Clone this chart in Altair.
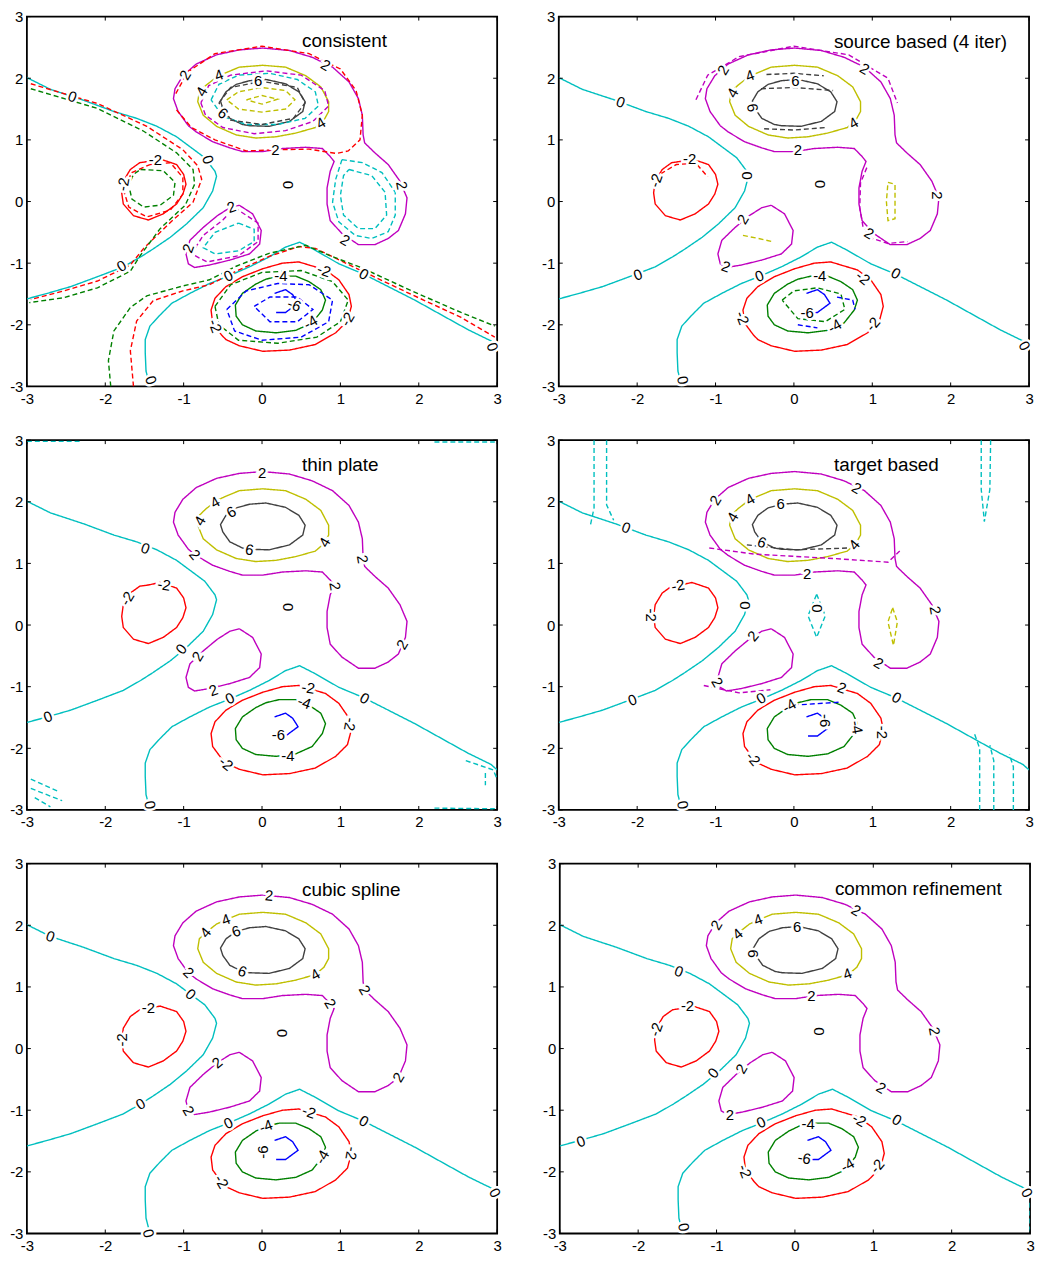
import altair as alt
import pandas as pd

# ---------------- data ----------------
PANEL_TITLES = ["consistent", "source based (4 iter)", "thin plate",
                "target based", "cubic spline", "common refinement"]
TITLE_X = [0.51, 0.51, 0.51, 0.51, 0.51, 0.51]
TITLE_Y = [2.60, 2.59, 2.60, 2.60, 2.58, 2.59]
TICKS = [-3, -2, -1, 0, 1, 2, 3]

LEVEL_KEYS = ["c0", "c2", "c4", "c6", "cm2", "cm4", "cm6"]
LEVEL_COLORS = ["#00BFBF", "#BF00BF", "#BFBF00", "#404040", "#FF0000", "#008000", "#0000FF"]

# shared solid contours
C0_UL_X = [-3.00, -2.70, -2.27, -1.89, -1.60, -1.34, -1.09, -0.91, -0.73, -0.60, -0.58, -0.63, -0.75, -0.96, -1.17, -1.39, -1.55, -1.77, -2.10, -2.44, -2.74, -3.00]
C0_UL_Y = [2.01, 1.82, 1.64, 1.46, 1.35, 1.22, 1.05, 0.88, 0.71, 0.49, 0.41, 0.17, -0.10, -0.36, -0.58, -0.77, -0.90, -1.06, -1.22, -1.38, -1.49, -1.58]
C0_LOW_X = [-1.43, -1.48, -1.49, -1.49, -1.43, -1.30, -1.15, -0.92, -0.67, -0.43, -0.16, 0.09, 0.30, 0.48, 0.68, 0.98, 1.30, 1.61, 1.95, 2.29, 2.63, 2.92, 3.00]
C0_LOW_Y = [-3.00, -2.75, -2.45, -2.24, -2.02, -1.84, -1.65, -1.49, -1.33, -1.21, -1.06, -0.90, -0.74, -0.66, -0.79, -1.01, -1.18, -1.38, -1.60, -1.84, -2.08, -2.26, -2.35]
C2_BIG_X = [-0.94, -1.07, -1.13, -1.11, -1.01, -0.84, -0.58, -0.29, 0.01, 0.35, 0.64, 0.90, 1.11, 1.23, 1.28, 1.29, 1.31, 1.44, 1.61, 1.76, 1.85, 1.83, 1.74, 1.61, 1.44, 1.23, 1.02, 0.87, 0.83, 0.83, 0.87, 0.92, 0.87, 0.77, 0.56, 0.26, 0.01, -0.25, -0.41, -0.63, -0.84, -0.94]
C2_BIG_Y = [1.23, 1.46, 1.67, 1.83, 2.04, 2.23, 2.38, 2.46, 2.49, 2.45, 2.34, 2.18, 1.94, 1.67, 1.40, 1.08, 0.95, 0.79, 0.60, 0.33, 0.06, -0.20, -0.47, -0.60, -0.70, -0.70, -0.52, -0.31, -0.04, 0.22, 0.49, 0.65, 0.73, 0.86, 0.88, 0.86, 0.81, 0.81, 0.87, 0.97, 1.13, 1.23]
C2_SMALL_X = [-0.29, -0.12, -0.01, -0.03, -0.16, -0.41, -0.67, -0.86, -0.94, -0.97, -0.92, -0.75, -0.57, -0.41, -0.29]
C2_SMALL_Y = [-0.06, -0.20, -0.47, -0.69, -0.85, -0.95, -1.03, -1.07, -1.01, -0.85, -0.63, -0.42, -0.23, -0.10, -0.06]
C4_X = [-0.46, -0.29, 0.01, 0.30, 0.56, 0.75, 0.85, 0.85, 0.79, 0.68, 0.43, 0.18, -0.08, -0.33, -0.58, -0.75, -0.82, -0.80, -0.72, -0.58, -0.46]
C4_Y = [2.09, 2.18, 2.21, 2.18, 2.04, 1.86, 1.62, 1.46, 1.32, 1.20, 1.11, 1.05, 1.03, 1.08, 1.22, 1.40, 1.62, 1.78, 1.88, 2.02, 2.09]
C6_X = [-0.33, -0.16, 0.05, 0.30, 0.47, 0.55, 0.52, 0.35, 0.09, -0.16, -0.25, -0.41, -0.50, -0.53, -0.46, -0.33]
C6_Y = [1.90, 1.96, 1.98, 1.91, 1.78, 1.62, 1.46, 1.30, 1.22, 1.23, 1.25, 1.35, 1.51, 1.63, 1.78, 1.90]
CM2_LEFT_X = [-1.45, -1.30, -1.09, -1.00, -0.97, -1.01, -1.09, -1.26, -1.45, -1.64, -1.77, -1.79, -1.77, -1.68, -1.56, -1.45]
CM2_LEFT_Y = [0.65, 0.69, 0.60, 0.44, 0.28, 0.12, -0.04, -0.20, -0.30, -0.23, -0.04, 0.14, 0.33, 0.52, 0.63, 0.65]
CM2_LOW_X = [0.60, 0.81, 0.98, 1.11, 1.14, 1.09, 0.94, 0.68, 0.35, 0.01, -0.29, -0.46, -0.52, -0.63, -0.65, -0.60, -0.46, -0.25, 0.01, 0.26, 0.47, 0.60]
CM2_LOW_Y = [-1.03, -1.11, -1.27, -1.51, -1.70, -1.94, -2.13, -2.32, -2.41, -2.43, -2.34, -2.24, -2.16, -1.97, -1.76, -1.57, -1.38, -1.22, -1.09, -1.00, -0.98, -1.03]
CM4_X = [0.05, 0.22, 0.43, 0.60, 0.75, 0.81, 0.77, 0.64, 0.43, 0.18, -0.08, -0.25, -0.33, -0.34, -0.25, -0.08, 0.05]
CM4_Y = [-1.26, -1.21, -1.21, -1.30, -1.43, -1.60, -1.76, -1.97, -2.09, -2.13, -2.10, -2.00, -1.86, -1.68, -1.49, -1.34, -1.26]
CM6_X = [0.16, 0.30, 0.39, 0.46, 0.30, 0.18]
CM6_Y = [-1.49, -1.43, -1.51, -1.65, -1.80, -1.80]

# panel 1 (consistent) dashed contours
P1_R0A_X = [-2.95, -2.10, -1.47, -1.01, -0.82, -0.77, -0.88, -1.17, -1.51, -1.68, -2.10, -2.53, -2.95]
P1_R0A_Y = [1.91, 1.59, 1.22, 0.84, 0.58, 0.36, -0.01, -0.34, -0.76, -1.03, -1.29, -1.45, -1.59]
P1_G0A_X = [-2.95, -2.10, -1.51, -1.09, -0.88, -0.86, -0.98, -1.30, -1.55, -1.68, -2.10, -2.53, -2.97]
P1_G0A_Y = [1.83, 1.51, 1.14, 0.79, 0.52, 0.28, -0.06, -0.44, -0.87, -1.13, -1.40, -1.56, -1.64]
P1_R0B_X = [-1.64, -1.68, -1.60, -1.39, -1.01, -0.67, -0.33, 0.09, 0.47, 0.68, 1.28, 1.91, 2.54, 2.97]
P1_R0B_Y = [-3.00, -2.42, -1.94, -1.61, -1.45, -1.35, -1.13, -0.89, -0.73, -0.76, -1.13, -1.51, -1.88, -2.20]
P1_G0B_X = [-1.93, -1.96, -1.89, -1.68, -1.47, -1.01, -0.67, -0.33, 0.09, 0.56, 0.85, 1.28, 1.91, 2.54, 2.97]
P1_G0B_Y = [-3.00, -2.58, -2.10, -1.72, -1.53, -1.37, -1.27, -1.05, -0.84, -0.71, -0.87, -1.08, -1.45, -1.80, -2.02]
P1_GL_X = [-1.55, -1.26, -1.11, -1.13, -1.30, -1.51, -1.66, -1.70, -1.64, -1.55]
P1_GL_Y = [0.52, 0.50, 0.31, 0.10, -0.06, -0.09, 0.04, 0.26, 0.44, 0.52]
P1_RL_X = [-1.43, -1.17, -1.01, -1.01, -1.17, -1.47, -1.70, -1.77, -1.66, -1.43]
P1_RL_Y = [0.60, 0.63, 0.39, 0.12, -0.14, -0.25, -0.09, 0.20, 0.47, 0.60]
P1_CR1_X = [1.02, 1.28, 1.53, 1.70, 1.70, 1.61, 1.40, 1.19, 0.98, 0.90, 0.94, 1.02]
P1_CR1_Y = [0.68, 0.63, 0.47, 0.15, -0.22, -0.49, -0.60, -0.55, -0.33, -0.01, 0.36, 0.68]
P1_CR2_X = [1.11, 1.40, 1.57, 1.59, 1.44, 1.23, 1.04, 1.00, 1.04, 1.11]
P1_CR2_Y = [0.52, 0.42, 0.15, -0.22, -0.44, -0.44, -0.22, 0.10, 0.42, 0.52]
P1_R2_X = [-1.10, -0.95, -0.60, 0.00, 0.60, 1.00, 1.20, 1.28, 1.25, 1.10, 0.95, 0.60, 0.20, -0.20, -0.60, -0.90, -1.10]
P1_R2_Y = [1.75, 2.10, 2.40, 2.52, 2.40, 2.15, 1.80, 1.40, 1.00, 0.82, 0.78, 0.85, 0.84, 0.82, 1.00, 1.20, 1.50]
P1_C4_X = [-0.65, -0.55, -0.30, 0.10, 0.45, 0.68, 0.72, 0.55, 0.20, -0.20, -0.50, -0.65]
P1_C4_Y = [1.65, 1.90, 2.05, 2.08, 1.98, 1.78, 1.55, 1.35, 1.25, 1.25, 1.38, 1.65]
P1_M4_X = [-0.78, -0.68, -0.40, 0.05, 0.50, 0.80, 0.85, 0.65, 0.30, -0.10, -0.50, -0.72, -0.78]
P1_M4_Y = [1.60, 1.88, 2.05, 2.12, 2.05, 1.80, 1.55, 1.30, 1.15, 1.10, 1.20, 1.40, 1.60]
P1_Y6_X = [-0.45, -0.30, 0.00, 0.30, 0.42, 0.30, 0.00, -0.30, -0.45]
P1_Y6_Y = [1.65, 1.78, 1.85, 1.80, 1.65, 1.50, 1.45, 1.50, 1.65]
P1_Y6B_X = [-0.20, 0.00, 0.20, 0.00, -0.20]
P1_Y6B_Y = [1.65, 1.72, 1.66, 1.58, 1.65]
P1_K6_X = [-0.55, -0.40, 0.00, 0.45, 0.55, 0.40, 0.00, -0.40, -0.55]
P1_K6_Y = [1.60, 1.85, 1.95, 1.85, 1.60, 1.35, 1.25, 1.32, 1.60]
P1_CS_X = [-0.30, -0.10, -0.10, -0.30, -0.60, -0.75, -0.60, -0.30]
P1_CS_Y = [-0.35, -0.45, -0.65, -0.80, -0.85, -0.75, -0.50, -0.35]
P1_MS_X = [-0.35, -0.05, -0.05, -0.30, -0.70, -0.90, -0.75, -0.50, -0.35]
P1_MS_Y = [-0.10, -0.35, -0.65, -0.88, -0.98, -0.85, -0.55, -0.30, -0.10]
P1_GB_X = [-0.60, -0.40, 0.00, 0.50, 0.90, 1.10, 1.00, 0.70, 0.20, -0.30, -0.55, -0.60]
P1_GB_Y = [-1.70, -1.35, -1.15, -1.12, -1.30, -1.60, -1.95, -2.20, -2.30, -2.25, -2.00, -1.70]
P1_BB_X = [-0.45, -0.20, 0.20, 0.60, 0.90, 0.85, 0.50, 0.00, -0.35, -0.45]
P1_BB_Y = [-1.75, -1.45, -1.33, -1.35, -1.60, -1.95, -2.20, -2.25, -2.10, -1.75]
P1_BI_X = [-0.10, 0.10, 0.45, 0.65, 0.45, 0.10, -0.10]
P1_BI_Y = [-1.70, -1.55, -1.55, -1.75, -1.95, -1.95, -1.70]

# panel 2 (source based) dashed contours
P2_YR_X = [1.20, 1.29, 1.29, 1.20, 1.18, 1.20]
P2_YR_Y = [0.31, 0.28, -0.28, -0.31, 0.00, 0.31]
P2_KA_X = [-0.35, 0.00, 0.38]
P2_KA_Y = [2.06, 2.08, 2.04]
P2_KB_X = [-0.42, 0.00, 0.50]
P2_KB_Y = [1.83, 1.85, 1.80]
P2_KC_X = [-0.38, 0.00, 0.40]
P2_KC_Y = [1.18, 1.16, 1.20]
P2_MR_X = [0.93, 0.85, 0.84, 0.88, 1.00, 1.20, 1.45]
P2_MR_Y = [0.55, 0.30, -0.10, -0.40, -0.60, -0.68, -0.65]
P2_MT_X = [-1.25, -1.10, -0.70, 0.00, 0.70, 1.20, 1.32]
P2_MT_Y = [1.65, 2.05, 2.35, 2.52, 2.38, 2.00, 1.60]
P2_GI_X = [-0.15, 0.00, 0.30, 0.60, 0.65, 0.40, 0.05, -0.15]
P2_GI_Y = [-1.60, -1.45, -1.40, -1.50, -1.75, -1.95, -1.90, -1.60]
P2_BA_X = [0.55, 0.75, 0.78]
P2_BA_Y = [-1.55, -1.60, -1.75]
P2_BB_X = [0.05, 0.30]
P2_BB_Y = [-2.00, -2.05]
P2_YS_X = [-0.65, -0.45, -0.28]
P2_YS_Y = [-0.55, -0.60, -0.65]
P2_RL_X = [-1.70, -1.50, -1.25, -1.10]
P2_RL_Y = [0.45, 0.60, 0.62, 0.40]

# panel 3 (thin plate) dashed artifacts
P3_T1_X = [-3.00, -2.30]
P3_T1_Y = [2.98, 2.98]
P3_T2_X = [2.20, 2.97]
P3_T2_Y = [2.97, 2.97]
P3_B1_X = [2.20, 2.97]
P3_B1_Y = [-2.97, -2.98]
P3_BL1_X = [-2.95, -2.60]
P3_BL1_Y = [-2.50, -2.70]
P3_BL2_X = [-2.95, -2.55]
P3_BL2_Y = [-2.65, -2.85]
P3_BL3_X = [-2.90, -2.70]
P3_BL3_Y = [-2.80, -2.95]
P3_BR1_X = [2.60, 2.95, 3.00]
P3_BR1_Y = [-2.20, -2.35, -2.50]
P3_BR2_X = [2.85, 2.85]
P3_BR2_Y = [-2.40, -2.60]

# panel 4 (target based) dashed artifacts
P4_TL1_X = [-2.55, -2.55, -2.60]
P4_TL1_Y = [3.00, 1.90, 1.60]
P4_TL2_X = [-2.39, -2.39, -2.30]
P4_TL2_Y = [3.00, 1.95, 1.70]
P4_TR1_X = [2.39, 2.39, 2.43]
P4_TR1_Y = [3.00, 2.20, 1.68]
P4_TR2_X = [2.51, 2.50, 2.43]
P4_TR2_Y = [3.00, 2.20, 1.68]
P4_BR1_X = [2.37, 2.37, 2.30]
P4_BR1_Y = [-3.00, -2.00, -1.75]
P4_BR2_X = [2.55, 2.55, 2.50]
P4_BR2_Y = [-3.00, -2.20, -1.95]
P4_BR3_X = [2.80, 2.80, 2.75]
P4_BR3_Y = [-3.00, -2.30, -2.10]
P4_YD_X = [1.26, 1.32, 1.27, 1.20, 1.26]
P4_YD_Y = [0.28, 0.05, -0.33, 0.05, 0.28]
P4_CD_X = [0.29, 0.40, 0.29, 0.18, 0.29]
P4_CD_Y = [0.50, 0.15, -0.20, 0.15, 0.50]
P4_MB_X = [-1.08, -0.50, 0.50, 1.20, 1.35]
P4_MB_Y = [1.25, 1.15, 1.08, 1.02, 1.20]
P4_KB_X = [-0.60, 0.00, 0.70]
P4_KB_Y = [1.30, 1.22, 1.25]
P4_BD_X = [0.00, 0.60]
P4_BD_Y = [-1.30, -1.25]
P4_MS_X = [-1.15, -0.70, -0.30]
P4_MS_Y = [-0.98, -1.10, -1.05]

# panel 6 (common refinement) dashed artifact
P6_E_X = [3.00, 3.00]
P6_E_Y = [-2.50, -3.00]

SHARED = [("c0", C0_UL_X, C0_UL_Y), ("c0", C0_LOW_X, C0_LOW_Y),
          ("c2", C2_BIG_X, C2_BIG_Y), ("c2", C2_SMALL_X, C2_SMALL_Y),
          ("c4", C4_X, C4_Y), ("c6", C6_X, C6_Y),
          ("cm2", CM2_LEFT_X, CM2_LEFT_Y), ("cm2", CM2_LOW_X, CM2_LOW_Y),
          ("cm4", CM4_X, CM4_Y), ("cm6", CM6_X, CM6_Y)]

EXTRAS = [
    (0, "cm2", P1_R0A_X, P1_R0A_Y), (0, "cm4", P1_G0A_X, P1_G0A_Y),
    (0, "cm2", P1_R0B_X, P1_R0B_Y), (0, "cm4", P1_G0B_X, P1_G0B_Y),
    (0, "cm4", P1_GL_X, P1_GL_Y), (0, "cm2", P1_RL_X, P1_RL_Y),
    (0, "c0", P1_CR1_X, P1_CR1_Y), (0, "c0", P1_CR2_X, P1_CR2_Y),
    (0, "cm2", P1_R2_X, P1_R2_Y), (0, "c0", P1_C4_X, P1_C4_Y),
    (0, "c2", P1_M4_X, P1_M4_Y), (0, "c4", P1_Y6_X, P1_Y6_Y),
    (0, "c4", P1_Y6B_X, P1_Y6B_Y), (0, "c6", P1_K6_X, P1_K6_Y),
    (0, "c0", P1_CS_X, P1_CS_Y), (0, "c2", P1_MS_X, P1_MS_Y),
    (0, "cm4", P1_GB_X, P1_GB_Y), (0, "cm6", P1_BB_X, P1_BB_Y),
    (0, "cm6", P1_BI_X, P1_BI_Y),
    (1, "c4", P2_YR_X, P2_YR_Y), (1, "c6", P2_KA_X, P2_KA_Y),
    (1, "c6", P2_KB_X, P2_KB_Y), (1, "c6", P2_KC_X, P2_KC_Y),
    (1, "c2", P2_MR_X, P2_MR_Y), (1, "c2", P2_MT_X, P2_MT_Y),
    (1, "cm4", P2_GI_X, P2_GI_Y), (1, "cm6", P2_BA_X, P2_BA_Y),
    (1, "cm6", P2_BB_X, P2_BB_Y), (1, "c4", P2_YS_X, P2_YS_Y),
    (1, "cm2", P2_RL_X, P2_RL_Y),
    (2, "c0", P3_T1_X, P3_T1_Y), (2, "c0", P3_T2_X, P3_T2_Y),
    (2, "c0", P3_B1_X, P3_B1_Y), (2, "c0", P3_BL1_X, P3_BL1_Y),
    (2, "c0", P3_BL2_X, P3_BL2_Y), (2, "c0", P3_BL3_X, P3_BL3_Y),
    (2, "c0", P3_BR1_X, P3_BR1_Y), (2, "c0", P3_BR2_X, P3_BR2_Y),
    (3, "c0", P4_TL1_X, P4_TL1_Y), (3, "c0", P4_TL2_X, P4_TL2_Y),
    (3, "c0", P4_TR1_X, P4_TR1_Y), (3, "c0", P4_TR2_X, P4_TR2_Y),
    (3, "c0", P4_BR1_X, P4_BR1_Y), (3, "c0", P4_BR2_X, P4_BR2_Y),
    (3, "c0", P4_BR3_X, P4_BR3_Y), (3, "c4", P4_YD_X, P4_YD_Y),
    (3, "c0", P4_CD_X, P4_CD_Y), (3, "c2", P4_MB_X, P4_MB_Y),
    (3, "c6", P4_KB_X, P4_KB_Y), (3, "cm6", P4_BD_X, P4_BD_Y),
    (3, "c2", P4_MS_X, P4_MS_Y),
    (5, "c0", P6_E_X, P6_E_Y),
]

# contour labels: (text, x, y, angle)
LABELS_P1 = [("2", -0.98, 2.05, 300), ("2", 0.81, 2.21, 30), ("4", -0.55, 2.05, 340), ("4", -0.77, 1.78, 300),
             ("6", -0.05, 1.96, 0), ("6", -0.50, 1.43, 40), ("4", 0.75, 1.27, 330), ("2", 0.17, 0.83, 0),
             ("2", 1.78, 0.26, 80), ("2", 1.06, -0.63, 30), ("2", -0.39, -0.09, 340), ("2", -0.94, -0.76, 290),
             ("0", -2.42, 1.70, 20), ("0", -0.69, 0.68, 70), ("0", 0.33, 0.27, 270), ("0", -1.79, -1.05, 330),
             ("0", -0.43, -1.21, 335), ("0", 1.30, -1.18, 30), ("0", 2.94, -2.36, 70), ("0", -1.42, -2.90, 70),
             ("-2", -1.36, 0.68, 0), ("-2", -1.77, 0.28, 280), ("-4", 0.24, -1.21, 0), ("-2", 0.79, -1.12, 20),
             ("-6", 0.41, -1.68, 20), ("-4", 0.62, -1.96, 330), ("-2", 1.09, -1.91, 300), ("-2", -0.60, -2.02, 70)]
LABELS_P2 = [("2", -0.90, 2.13, 300), ("2", 0.90, 2.15, 30), ("4", -0.56, 2.04, 340), ("4", -0.78, 1.76, 300),
             ("6", 0.02, 1.96, 0), ("6", -0.53, 1.52, 80), ("4", 0.76, 1.27, 330), ("2", 0.05, 0.83, 0),
             ("2", 1.82, 0.10, 90), ("2", 0.96, -0.52, 30), ("2", -0.65, -0.29, 300), ("2", -0.87, -1.06, 20),
             ("0", -2.21, 1.61, 20), ("0", -0.60, 0.42, 90), ("0", 0.33, 0.28, 90), ("0", -1.99, -1.19, 340),
             ("0", -0.44, -1.21, 340), ("0", 1.30, -1.17, 30), ("0", 2.94, -2.34, 60), ("0", -1.42, -2.90, 80),
             ("-2", -1.33, 0.69, 0), ("-2", -1.76, 0.34, 290), ("-4", 0.33, -1.21, 0), ("-2", 0.88, -1.24, 40),
             ("-6", 0.17, -1.81, 0), ("-4", 0.52, -2.02, 330), ("-2", 1.01, -1.99, 310), ("-2", -0.66, -1.89, 70)]
LABELS_P3 = [("2", 0.00, 2.47, 0), ("4", -0.60, 1.99, 330), ("4", -0.79, 1.69, 300), ("6", -0.39, 1.83, 330),
             ("6", -0.16, 1.22, 10), ("4", 0.80, 1.34, 300), ("2", -0.86, 1.14, 50), ("2", 1.28, 1.07, 80),
             ("2", 0.93, 0.63, 80), ("2", 1.79, -0.32, 300), ("2", -0.82, -0.51, 300), ("2", -0.62, -1.06, 340),
             ("0", -1.49, 1.24, 20), ("0", -1.03, -0.39, 310), ("0", -2.73, -1.49, 340), ("0", 0.33, 0.29, 270),
             ("0", -0.41, -1.19, 335), ("0", 1.31, -1.19, 30), ("0", -1.43, -2.92, 80),
             ("-2", -1.25, 0.65, 10), ("-2", -1.72, 0.43, 300), ("-2", 0.59, -1.02, 10), ("-4", 0.54, -1.26, 20),
             ("-2", 1.12, -1.61, 100), ("-6", 0.21, -1.79, 0), ("-4", 0.33, -2.12, 0), ("-2", -0.46, -2.25, 40)]
LABELS_P4 = [("2", -1.00, 2.02, 300), ("2", 0.80, 2.22, 30), ("4", -0.56, 2.04, 330), ("4", -0.78, 1.75, 300),
             ("6", -0.17, 1.96, 0), ("6", -0.41, 1.34, 20), ("4", 0.77, 1.30, 310), ("2", 0.17, 0.83, 0),
             ("2", 1.80, 0.24, 80), ("2", 1.08, -0.62, 30), ("2", -0.52, -0.18, 310), ("2", -0.98, -0.93, 60),
             ("0", -2.14, 1.58, 20), ("0", -0.62, 0.32, 90), ("0", 0.30, 0.27, 90), ("0", -2.06, -1.22, 340),
             ("0", -0.42, -1.19, 330), ("0", 1.31, -1.18, 30), ("0", -1.42, -2.92, 80),
             ("-2", -1.48, 0.64, 350), ("-2", -1.82, 0.16, 90), ("2", 0.61, -1.02, 20), ("-4", -0.06, -1.31, 330),
             ("-6", 0.40, -1.55, 90), ("-4", 0.80, -1.66, 80), ("-2", 1.12, -1.74, 90), ("-2", -0.52, -2.17, 50)]
LABELS_P5 = [("2", 0.09, 2.48, 5), ("2", -0.94, 1.23, 45), ("2", 1.31, 0.95, 60), ("2", 0.87, 0.73, 60),
             ("2", 1.74, -0.47, 300), ("2", -0.57, -0.23, 320), ("2", -0.94, -1.01, 60),
             ("4", -0.46, 2.09, 340), ("4", -0.72, 1.88, 310), ("4", 0.68, 1.20, 330),
             ("6", -0.33, 1.90, 340), ("6", -0.25, 1.25, 20),
             ("0", -2.70, 1.82, 20), ("0", -0.91, 0.88, 40), ("0", -1.55, -0.90, 330), ("0", -0.43, -1.21, 335),
             ("0", 1.30, -1.18, 30), ("0", 2.97, -2.34, 60), ("0", -1.45, -3.00, 75), ("0", 0.26, 0.25, 270),
             ("-2", -1.45, 0.65, 0), ("-2", -1.79, 0.14, 270), ("-2", 0.60, -1.03, 20), ("-2", 1.14, -1.70, 100),
             ("-2", -0.52, -2.16, 60), ("-4", 0.05, -1.26, 340), ("-4", 0.77, -1.76, 300), ("-6", 0.01, -1.68, 270)]
LABELS_P6 = [("2", -1.00, 2.00, 300), ("2", 0.78, 2.24, 30), ("4", -0.47, 2.09, 340), ("4", -0.73, 1.86, 320),
             ("6", 0.03, 1.97, 0), ("6", -0.53, 1.54, 90), ("4", 0.67, 1.21, 340), ("2", 0.21, 0.85, 0),
             ("2", 1.78, 0.28, 80), ("2", 1.10, -0.64, 30), ("2", -0.68, -0.33, 300), ("2", -0.83, -1.08, 0),
             ("0", -1.48, 1.25, 20), ("0", -1.04, -0.40, 310), ("0", -2.73, -1.51, 340), ("0", 0.31, 0.28, 90),
             ("0", -0.43, -1.20, 335), ("0", 1.30, -1.16, 30), ("0", 2.96, -2.34, 60), ("0", -1.42, -2.90, 80),
             ("-2", -1.37, 0.69, 0), ("-2", -1.77, 0.31, 290), ("-4", 0.17, -1.23, 0), ("-2", 0.82, -1.16, 30),
             ("-6", 0.12, -1.78, 10), ("-4", 0.67, -1.89, 330), ("-2", 1.05, -1.91, 310), ("-2", -0.64, -1.99, 70)]
LABELS = [LABELS_P1, LABELS_P2, LABELS_P3, LABELS_P4, LABELS_P5, LABELS_P6]

# ---------------- build tables ----------------
rows = []
sid = 0
for p in range(6):
    for col, xs_, ys_ in SHARED:
        for k, (a, b) in enumerate(zip(xs_, ys_)):
            rows.append(dict(panel=p, sid=sid, ord=k, x=a, y=b, col=col, dash="solid"))
        sid += 1
for p, col, xs_, ys_ in EXTRAS:
    for k, (a, b) in enumerate(zip(xs_, ys_)):
        rows.append(dict(panel=p, sid=sid, ord=k, x=a, y=b, col=col, dash="dashed"))
    sid += 1
lines_df = pd.DataFrame(rows)

FONT = "Liberation Sans"
W, H = 473, 372
TL = 4

xsc = alt.Scale(domain=[-3, 3], nice=False, zero=False)
ysc = alt.Scale(domain=[-3, 3], nice=False, zero=False)
AXX = alt.Axis(values=TICKS, grid=False, ticks=False, domain=False, labelPadding=5, title=None,
               labelFlush=False, labelExpr="'' + datum.value", labelFontSize=15, labelFont=FONT,
               labelColor="black", labelOverlap=False)
AXY = alt.Axis(values=TICKS, grid=False, ticks=False, domain=False, labelPadding=4, title=None,
               labelFlush=False, labelExpr="'' + datum.value", labelFontSize=15, labelFont=FONT,
               labelColor="black", labelOverlap=False)
ticks_df = pd.DataFrame({"t": TICKS})


def panel(i):
    d = lines_df[lines_df.panel == i]
    X = alt.X("x:Q", scale=xsc, axis=AXX)
    Y = alt.Y("y:Q", scale=ysc, axis=AXY)
    lines = alt.Chart(d).mark_line(strokeWidth=1.4, clip=True).encode(
        x=X, y=Y,
        detail="sid:N",
        order="ord:Q",
        color=alt.Color("col:N", scale=alt.Scale(domain=LEVEL_KEYS, range=LEVEL_COLORS), legend=None),
        strokeDash=alt.StrokeDash("dash:N", scale=alt.Scale(domain=["solid", "dashed"], range=[[1, 0], [5, 3]]),
                                  legend=None),
    )
    lab = pd.DataFrame(LABELS[i], columns=["t", "x", "y", "a"])
    enc = dict(x=X, y=Y, text="t:N", angle=alt.Angle("a:Q", scale=None))
    halo = alt.Chart(lab).mark_text(font=FONT, fontSize=15, fill="white", stroke="white",
                                    strokeWidth=5).encode(**enc)
    txt = alt.Chart(lab).mark_text(font=FONT, fontSize=15, color="black").encode(**enc)
    tdf = pd.DataFrame({"name": [PANEL_TITLES[i]], "x": [TITLE_X[i]], "y": [TITLE_Y[i]]})
    title = alt.Chart(tdf).mark_text(font=FONT, fontSize=19, align="left", color="black").encode(
        x=X, y=Y, text="name:N")
    tX = alt.X("t:Q", scale=xsc, axis=AXX)
    tY = alt.Y("t:Q", scale=ysc, axis=AXY)
    tb = alt.Chart(ticks_df).mark_rule(color="black", strokeWidth=1).encode(
        x=tX, y=alt.value(H), y2=alt.value(H - TL))
    tt = alt.Chart(ticks_df).mark_rule(color="black", strokeWidth=1).encode(
        x=tX, y=alt.value(0), y2=alt.value(TL))
    tl = alt.Chart(ticks_df).mark_rule(color="black", strokeWidth=1).encode(
        y=tY, x=alt.value(0), x2=alt.value(TL))
    tr = alt.Chart(ticks_df).mark_rule(color="black", strokeWidth=1).encode(
        y=tY, x=alt.value(W), x2=alt.value(W - TL))
    return alt.layer(lines, halo, txt, title, tb, tt, tl, tr).properties(width=W, height=H)


rowsc = [alt.hconcat(panel(2 * r), panel(2 * r + 1), spacing=37) for r in range(3)]
chart = alt.vconcat(*rowsc, spacing=25).properties(
    padding={"left": 0, "top": -3, "right": 0, "bottom": 0}, background="white"
).configure_view(stroke="black", strokeWidth=1.8)

chart.save("out.html", embed_options={"renderer": "svg", "actions": False})
